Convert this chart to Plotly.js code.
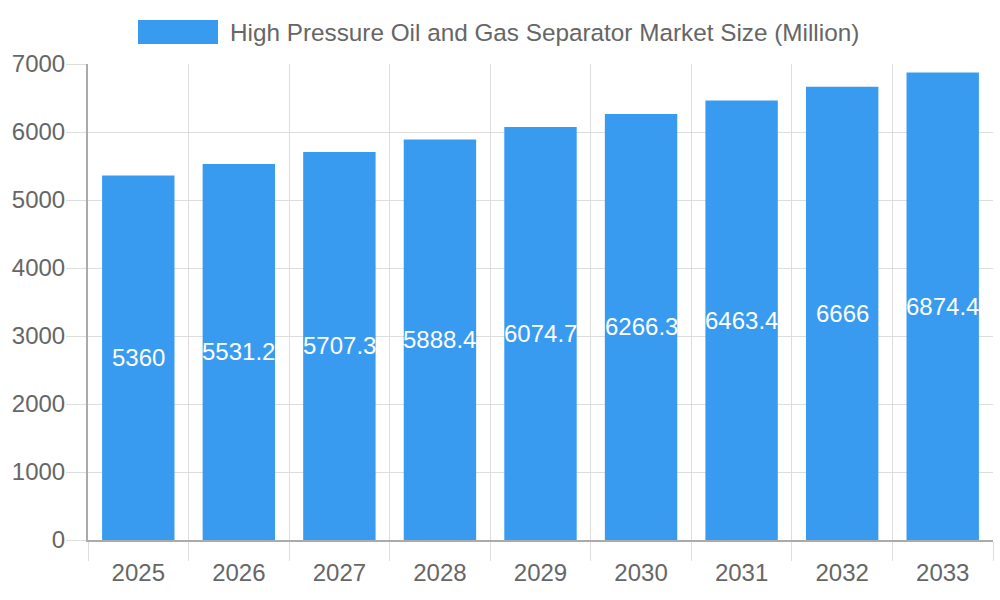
<!DOCTYPE html>
<html>
<head>
<meta charset="utf-8">
<script src="https://cdn.plot.ly/plotly-3.0.1.min.js"></script>
<style>
  html, body { margin: 0; padding: 0; background: #fff; }
  #chart { width: 1000px; height: 600px; }
</style>
</head>
<body>
<div id="chart"></div>
<script>
/* global Plotly */

const years = ['2025', '2026', '2027', '2028', '2029', '2030', '2031', '2032', '2033'];
const marketSize = [5360, 5531.2, 5707.3, 5888.4, 6074.7, 6266.3, 6463.4, 6666, 6874.4];
const seriesName = 'High Pressure Oil and Gas Separator Market Size (Million)';

const barColor = '#389bf0';
const textColor = '#666666';
const gridColor = '#dddddd';
const axisColor = '#aaaaaa';
const fontFamily = '"Liberation Sans", Arial, sans-serif';

// plot box in pixels, used to place the hand made legend
const plotLeft = 88;
const plotRight = 993;
const plotTop = 64;
const plotBottom = 540;
const px = (x) => (x - plotLeft) / (plotRight - plotLeft);
const py = (y) => (plotBottom - y) / (plotBottom - plotTop);

const bars = {
  type: 'bar',
  x: years,
  y: marketSize,
  width: 0.72,
  marker: { color: barColor },
  textposition: 'none',
  hoverinfo: 'x+y',
  showlegend: false,
};

// value labels centered in the bars (category axis: x is the category index)
const valueLabels = years.map((year, i) => ({
  x: i,
  y: marketSize[i] / 2,
  xref: 'x',
  yref: 'y',
  text: String(marketSize[i]),
  showarrow: false,
  xanchor: 'center',
  yanchor: 'middle',
  font: { family: fontFamily, size: 24, color: '#ffffff' },
}));

const layout = {
  width: 1000,
  height: 600,
  margin: { l: plotLeft, r: 1000 - plotRight, t: plotTop, b: 600 - plotBottom, pad: 0 },
  paper_bgcolor: '#ffffff',
  plot_bgcolor: '#ffffff',
  font: { family: fontFamily, size: 24, color: textColor },
  showlegend: false,
  xaxis: {
    type: 'category',
    tickson: 'boundaries',
    showgrid: true,
    gridcolor: gridColor,
    ticks: 'outside',
    ticklen: 19,
    tickcolor: gridColor,
    ticklabelstandoff: 10,
    showline: true,
    linecolor: axisColor,
    linewidth: 2,
    tickfont: { family: fontFamily, size: 24, color: textColor },
    fixedrange: true,
  },
  yaxis: {
    range: [0, 7000],
    dtick: 1000,
    showgrid: true,
    gridcolor: gridColor,
    ticks: 'outside',
    ticklen: 20,
    tickcolor: gridColor,
    ticklabelstandoff: -4,
    showline: true,
    linecolor: axisColor,
    linewidth: 2,
    zeroline: false,
    tickfont: { family: fontFamily, size: 24, color: textColor },
    fixedrange: true,
  },
  shapes: [{
    type: 'rect',
    xref: 'paper',
    yref: 'paper',
    x0: px(138),
    x1: px(218),
    y0: py(44),
    y1: py(20),
    fillcolor: barColor,
    line: { width: 0 },
  }],
  annotations: [{
    xref: 'paper',
    yref: 'paper',
    x: px(228),
    y: py(32),
    xanchor: 'left',
    yanchor: 'middle',
    showarrow: false,
    text: seriesName,
    font: { family: fontFamily, size: 24.3, color: textColor },
  }].concat(valueLabels),
};

Plotly.newPlot('chart', [bars], layout, { staticPlot: true, displayModeBar: false });
</script>
</body>
</html>
